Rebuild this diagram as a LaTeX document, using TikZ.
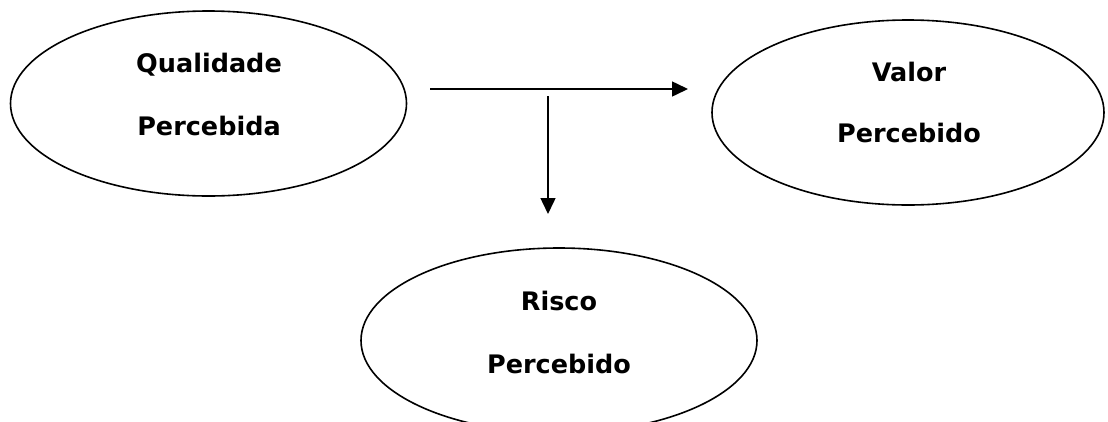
\documentclass[tikz,border=0pt]{standalone}
\usepackage{fontspec}
\setmainfont{DejaVu Sans}
\usetikzlibrary{shapes.geometric,arrows.meta}
\begin{document}
\begin{tikzpicture}[x=1pt,y=-1pt,
  bubble/.style={draw=black,line width=1.6pt,ellipse,inner sep=0pt,minimum width=396pt,minimum height=185pt},
  label/.style={font=\fontsize{25.5}{30}\selectfont\bfseries,anchor=base,inner sep=0pt},
  conn/.style={line width=1.5pt,-{Triangle[length=16pt,width=15pt]}}]
\useasboundingbox (0,0) rectangle (1108,421);
\clip (0,0) rectangle (1108,421);
\node[bubble] (qp) at (208.5,103.5) {};
\node[bubble,minimum width=392pt] (vp) at (908,112.5) {};
\node[bubble] (rp) at (559,340.5) {};
\node[label] (q1) at (209,72) {Qualidade};
\node[label] (q2) at (209,135) {Percebida};
\node[label] (v1) at (909,81) {Valor};
\node[label] (v2) at (909,142) {Percebido};
\node[label] (r1) at (559,310) {Risco};
\node[label] (r2) at (559,373) {Percebido};
\coordinate (hs) at (430,89);
\coordinate (he) at (688,89);
\coordinate (vs) at (548,96);
\coordinate (ve) at (548,214);
\draw[conn] (hs) -- (he);
\draw[conn] (vs) -- (ve);
\end{tikzpicture}
\end{document}
